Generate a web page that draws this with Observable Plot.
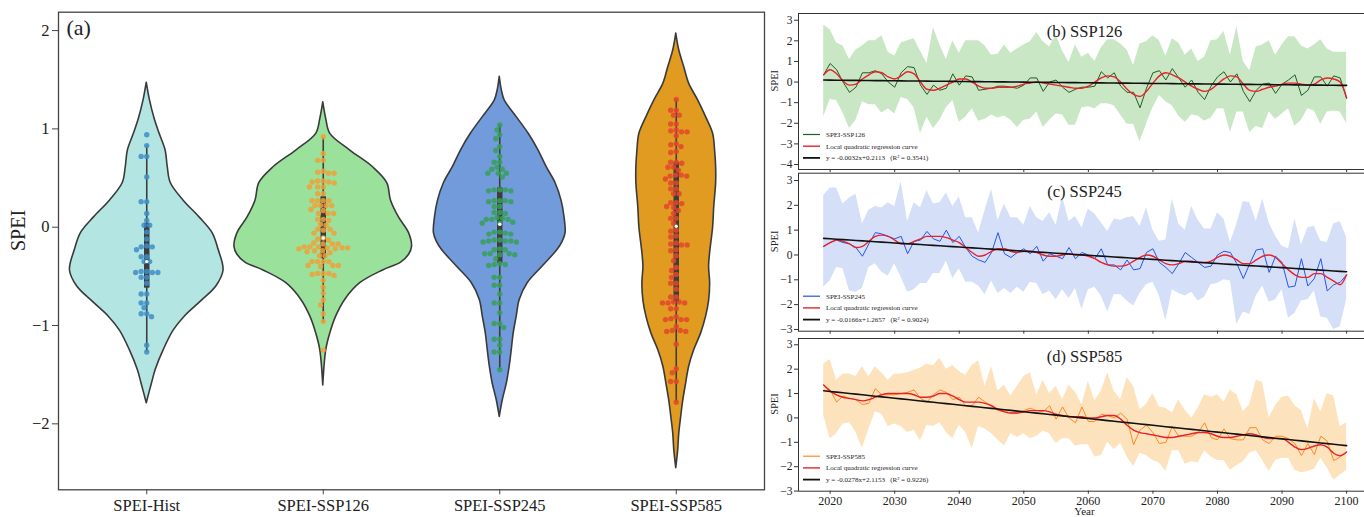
<!DOCTYPE html>
<html><head><meta charset="utf-8">
<script src="https://cdn.jsdelivr.net/npm/d3@7"></script>
<script src="https://cdn.jsdelivr.net/npm/@observablehq/plot@0.6"></script>
<style>
html,body{margin:0;padding:0;background:#fff;overflow:hidden;}
#wrap{position:relative;width:1364px;height:517px;overflow:hidden;background:#fff;}
#wrap svg{position:absolute;}
</style></head><body><div id="wrap"></div>
<script>
// ---------------- DATA: panel (a) ----------------
const categories = ["SPEI-Hist","SPEI-SSP126","SPEI-SSP245","SPEI-SSP585"];
const violinFill = ["#b3e5e3","#9ae29b","#729bdc","#e19b20"];
const dotColor = ["#3e8ec8","#f0a03a","#36a057","#e2462b"];

// violin half-width profiles: [SPEI value, half width in category-band units]
const histProfile = [[1.47,0],[1.3,.017],[1.1,.045],[0.95,.073],[0.78,.107],[0.61,.119],[0.45,.136],[0.27,.209],[0.1,.299],[-0.06,.373],[-0.23,.407],[-0.44,.435],[-0.6,.395],[-0.75,.311],[-0.91,.215],[-1.05,.153],[-1.25,.096],[-1.45,.051],[-1.6,.028],[-1.79,0]];
const ssp126Profile = [[1.27,0],[1.1,.017],[0.95,.04],[0.78,.153],[0.61,.282],[0.45,.362],[0.27,.384],[0.1,.429],[-0.06,.486],[-0.2,.503],[-0.28,.486],[-0.36,.441],[-0.44,.339],[-0.57,.209],[-0.74,.124],[-0.91,.073],[-1.08,.04],[-1.25,.017],[-1.61,0]];
const ssp245Profile = [[1.53,0],[1.4,.011],[1.29,.028],[1.12,.096],[0.95,.164],[0.78,.22],[0.61,.266],[0.45,.316],[0.27,.35],[0.1,.367],[-0.06,.373],[-0.15,.356],[-0.23,.328],[-0.4,.243],[-0.57,.158],[-0.74,.113],[-0.91,.096],[-1.08,.079],[-1.25,.068],[-1.42,.056],[-1.59,.04],[-1.76,.017],[-1.93,0]];
const ssp585Profile = [[1.97,0],[1.8,.017],[1.63,.045],[1.46,.073],[1.29,.124],[1.12,.169],[0.95,.209],[0.78,.22],[0.61,.226],[0.45,.226],[0.2,.215],[0,.209],[-0.26,.192],[-0.4,.186],[-0.57,.192],[-0.75,.186],[-0.91,.169],[-1.08,.141],[-1.25,.102],[-1.42,.073],[-1.59,.056],[-1.76,.04],[-1.93,.028],[-2.1,.017],[-2.27,.011],[-2.45,0]];

// swarm points (annual SPEI values)
const histValues = [0.94,0.83,0.72,0.72,0.51,0.26,0.26,0.14,0.07,0.02,0.02,-0.05,-0.12,-0.2,-0.2,-0.19,-0.23,-0.3,-0.3,-0.35,-0.35,-0.46,-0.46,-0.46,-0.45,-0.45,-0.51,-0.51,-0.57,-0.68,-0.68,-0.77,-0.77,-0.82,-0.88,-0.88,-0.91,-1.2,-1.27];
const ssp126Values = [0.92,0.75,0.68,0.68,0.57,0.56,0.55,0.55,0.47,0.47,0.46,0.45,0.46,0.41,0.41,0.41,0.34,0.34,0.27,0.27,0.27,0.27,0.22,0.22,0.22,0.22,0.18,0.17,0.14,0.14,0.14,0.08,0.07,0.08,0.03,0.02,-0.02,-0.02,-0.03,-0.06,-0.06,-0.11,-0.12,-0.13,-0.16,-0.17,-0.17,-0.17,-0.2,-0.21,-0.22,-0.22,-0.21,-0.21,-0.2,-0.2,-0.24,-0.25,-0.24,-0.26,-0.29,-0.29,-0.35,-0.35,-0.35,-0.35,-0.39,-0.4,-0.39,-0.39,-0.47,-0.49,-0.48,-0.47,-0.47,-0.54,-0.61,-0.67,-0.74,-0.79,-0.88,-0.96,-1.25];
const ssp245Values = [1.04,0.99,0.94,0.9,0.82,0.78,0.72,0.66,0.66,0.61,0.59,0.59,0.55,0.55,0.55,0.51,0.38,0.37,0.38,0.37,0.38,0.27,0.26,0.27,0.26,0.27,0.21,0.21,0.15,0.15,0.14,0.1,0.08,0.08,0.08,0.09,0.05,0.04,0.04,-0.05,-0.07,-0.06,-0.07,-0.05,-0.13,-0.14,-0.15,-0.14,-0.15,-0.14,-0.13,-0.22,-0.23,-0.23,-0.27,-0.28,-0.28,-0.27,-0.27,-0.32,-0.38,-0.38,-0.39,-0.37,-0.51,-0.51,-0.59,-0.59,-0.68,-0.77,-0.77,-0.87,-0.98,-0.98,-1.02,-1.14,-1.14,-1.2,-1.27,-1.27,-1.45];
const ssp585Values = [1.3,1.19,1.19,1.14,1.14,1.05,1.05,0.99,0.98,0.97,0.97,0.93,0.85,0.84,0.82,0.77,0.76,0.66,0.66,0.65,0.61,0.61,0.58,0.53,0.52,0.52,0.53,0.49,0.45,0.45,0.39,0.39,0.34,0.34,0.25,0.25,0.24,0.2,0.21,0.17,0.14,0.09,0.09,0.04,-0.03,-0.04,-0.09,-0.1,-0.17,-0.18,-0.18,-0.16,-0.23,-0.24,-0.29,-0.34,-0.41,-0.44,-0.48,-0.51,-0.57,-0.57,-0.63,-0.71,-0.71,-0.76,-0.77,-0.77,-0.77,-0.76,-0.83,-0.83,-0.91,-0.94,-0.94,-0.94,-0.93,-1.01,-1.06,-1.06,-1.05,-1.05,-1.19,-1.44,-1.48,-1.57,-1.57,-1.78];

// inner box stats: lower whisker, Q1, median, Q3, upper whisker
const whiskerLow = [-1.27,-0.97,-1.45,-1.78];
const q1 = [-0.62,-0.32,-0.37,-0.77];
const median = [-0.35,-0.11,0.03,0.01];
const q3 = [0.04,0.31,0.40,0.66];
const whiskerHigh = [0.83,0.91,1.04,1.30];
const violinTicks = [-2,-1,0,1,2];

// ---------------- DATA: panels (b)-(d) ----------------
const years = d3.range(2019, 2101);
const yearTicks = [2020,2030,2040,2050,2060,2070,2080,2090,2100];
const ssp126Line = [0.35,0.9,0.6,0.0,-0.5,-0.25,0.45,0.45,0.55,0.4,0.0,-0.25,0.45,0.75,0.7,-0.15,-0.6,-0.15,-0.4,-0.3,0.4,-0.15,0.3,0.25,-0.4,-0.35,-0.3,-0.2,-0.2,-0.25,-0.3,-0.15,0.2,0.2,-0.45,0.0,0.1,-0.25,-0.5,-0.35,-0.25,-0.25,-0.2,0.5,0.2,0.45,-0.2,-0.5,-0.5,-1.25,-0.3,0.45,0.55,0.1,0.65,0.2,-0.25,0.1,-0.5,-0.85,-0.2,0.25,0.5,0.0,0.4,-0.45,-0.95,-0.4,-0.1,-0.05,-0.55,-0.1,0.1,0.35,-0.65,-0.4,0.25,0.25,-0.2,0.3,0.2,-0.8];
const ssp126Loess = [0.35,0.6,0.4,0.05,-0.15,-0.1,0.15,0.35,0.5,0.45,0.25,0.15,0.3,0.5,0.4,0.0,-0.35,-0.4,-0.3,-0.15,0.0,0.15,0.15,0.0,-0.2,-0.3,-0.3,-0.25,-0.25,-0.25,-0.2,-0.1,-0.05,0.0,-0.05,-0.1,-0.15,-0.2,-0.25,-0.3,-0.3,-0.2,0.0,0.2,0.3,0.25,0.0,-0.35,-0.6,-0.7,-0.45,-0.05,0.3,0.45,0.35,0.2,0.0,-0.2,-0.35,-0.45,-0.35,-0.1,0.15,0.3,0.25,-0.1,-0.4,-0.45,-0.35,-0.25,-0.2,-0.1,-0.05,-0.05,-0.1,-0.15,-0.1,0.1,0.2,0.15,0.0,-0.75];
const ssp126Upper = [2.75,2.55,1.9,1.75,1.1,1.55,1.75,2.0,2.0,2.25,1.45,1.25,1.9,2.0,2.1,1.5,0.9,2.65,1.8,1.1,2.0,1.4,2.0,2.0,2.0,1.75,1.3,1.35,1.8,1.4,1.6,1.8,1.95,2.4,1.95,1.7,2.3,1.5,0.95,1.8,1.2,1.4,1.0,1.65,2.05,2.05,1.85,1.55,0.8,1.85,1.95,2.25,2.0,1.25,2.1,1.9,1.3,1.6,1.0,1.2,2.0,2.05,2.45,1.3,2.7,1.0,0.55,1.7,1.8,2.0,1.3,1.8,2.2,2.2,1.75,1.6,1.8,2.05,1.6,1.45,1.45,1.45];
const ssp126Lower = [-1.7,-0.85,-0.9,-1.5,-2.25,-1.85,-0.95,-1.1,-1.1,-1.5,-1.3,-1.55,-0.75,-0.85,-1.25,-2.5,-1.7,-2.25,-1.85,-1.25,-0.9,-1.95,-1.7,-1.3,-1.9,-1.8,-1.6,-1.75,-1.65,-1.85,-2.2,-1.85,-1.8,-1.45,-2.2,-1.85,-1.55,-1.6,-2.1,-2.1,-1.25,-1.2,-1.3,-1.05,-1.05,-1.15,-1.6,-2.05,-2.05,-2.9,-2.05,-1.25,-0.65,-0.95,-1.15,-1.65,-1.95,-1.6,-1.65,-1.9,-1.75,-1.3,-1.3,-2.45,-1.45,-1.45,-2.45,-2.15,-2.25,-1.45,-1.8,-1.55,-1.3,-2.15,-1.85,-1.3,-1.4,-2.05,-1.45,-1.4,-1.45,-2.0];

const ssp245Line = [0.35,0.5,0.6,0.5,0.45,0.3,-0.05,0.45,0.9,0.85,0.75,0.65,0.75,0.05,0.55,0.6,0.95,0.65,0.55,1.0,0.5,0.75,0.3,-0.05,-0.2,-0.3,0.1,0.9,0.05,-0.1,0.1,0.25,0.05,0.35,-0.25,0.05,-0.05,-0.15,0.3,-0.15,0.1,0.0,-0.15,0.25,-0.4,-0.4,-0.6,-0.2,-0.6,-0.55,0.1,0.25,-0.3,-0.5,-0.75,-0.35,0.1,-0.1,-0.3,-0.5,-0.45,0.0,0.15,0.1,-0.35,-0.95,-0.35,0.2,0.25,-0.7,-0.05,-0.3,-1.3,-1.25,-0.15,-1.25,-0.95,-0.15,-1.45,-1.2,-1.1,-0.8];
const ssp245Loess = [0.35,0.5,0.6,0.55,0.45,0.3,0.35,0.55,0.75,0.8,0.75,0.6,0.45,0.45,0.55,0.65,0.75,0.75,0.75,0.7,0.6,0.5,0.3,0.1,-0.05,0.0,0.15,0.25,0.25,0.15,0.1,0.15,0.15,0.1,0.0,-0.05,-0.05,0.0,0.05,0.0,0.0,-0.05,-0.15,-0.3,-0.4,-0.45,-0.45,-0.4,-0.25,-0.1,0.0,-0.05,-0.2,-0.35,-0.4,-0.35,-0.25,-0.25,-0.3,-0.3,-0.25,-0.1,0.0,-0.05,-0.2,-0.35,-0.35,-0.2,-0.05,0.0,-0.1,-0.35,-0.6,-0.8,-0.9,-0.9,-0.75,-0.75,-0.9,-1.05,-1.2,-0.8];
const ssp245Upper = [2.4,2.7,2.7,2.05,2.3,2.45,1.25,1.8,1.95,1.9,2.1,1.95,2.95,1.35,2.1,1.9,2.6,2.05,2.1,2.5,1.95,2.35,1.5,1.5,0.9,1.8,2.65,1.4,2.05,1.5,1.5,1.2,1.95,1.5,1.35,1.7,1.2,2.35,1.35,1.55,1.1,1.85,1.65,1.3,0.95,1.45,1.4,1.5,1.55,1.15,1.9,1.0,0.55,0.6,2.25,1.25,1.0,1.95,1.4,1.05,1.05,1.7,1.45,0.5,1.25,2.15,2.1,1.35,2.25,1.3,0.75,0.35,0.25,1.45,0.4,1.1,1.15,0.55,0.5,1.25,1.35,0.7];
const ssp245Lower = [-1.3,-1.05,-0.5,-0.55,-1.45,-1.5,-1.35,-0.5,-0.35,-0.7,-0.85,-0.35,-0.9,-1.5,-1.4,-1.15,-1.15,-0.75,-0.75,-0.25,-0.95,-0.55,-1.1,-1.1,-1.25,-1.6,-1.05,-1.55,-1.35,-1.55,-1.3,-1.5,-1.1,-1.15,-1.6,-1.45,-1.8,-1.4,-1.75,-1.35,-2.2,-1.4,-1.3,-1.65,-2.3,-1.6,-1.6,-1.85,-2.05,-1.55,-1.2,-1.1,-1.65,-2.65,-1.4,-1.55,-1.65,-1.5,-1.85,-1.7,-1.2,-1.15,-1.0,-1.05,-2.8,-2.3,-2.4,-1.65,-1.25,-1.9,-1.8,-1.4,-2.55,-2.35,-1.85,-1.8,-1.45,-2.5,-2.55,-3.0,-2.9,-1.8];

const ssp585Line = [1.35,1.15,0.65,0.9,0.8,0.75,0.55,0.6,1.2,0.95,0.95,0.95,1.0,1.05,1.15,0.8,0.65,0.95,1.15,1.05,0.75,0.85,0.5,0.5,0.85,0.65,0.5,0.3,0.3,0.2,0.2,0.3,0.4,0.3,0.25,0.5,-0.05,0.45,0.0,-0.2,0.45,-0.15,-0.15,0.15,0.1,0.0,0.2,-0.05,-1.1,-0.5,-0.3,-0.6,-1.05,-1.0,-0.35,-0.75,-0.75,-0.75,-0.6,-0.2,-0.8,-0.9,-0.45,-0.85,-0.9,-0.9,-0.4,-0.4,-0.9,-1.05,-0.75,-0.75,-0.85,-1.05,-1.55,-1.05,-1.5,-0.75,-0.95,-1.75,-1.6,-1.4];
const ssp585Loess = [1.35,1.1,0.95,0.85,0.8,0.75,0.7,0.75,0.85,0.95,1.0,1.0,1.0,1.0,0.95,0.85,0.85,0.9,1.0,1.0,0.9,0.75,0.65,0.65,0.65,0.6,0.5,0.35,0.25,0.2,0.2,0.25,0.3,0.3,0.3,0.25,0.15,0.1,0.05,0.05,0.05,0.0,0.0,0.05,0.1,0.1,-0.05,-0.3,-0.5,-0.6,-0.65,-0.7,-0.75,-0.8,-0.8,-0.75,-0.7,-0.65,-0.6,-0.6,-0.65,-0.75,-0.8,-0.8,-0.75,-0.7,-0.65,-0.7,-0.8,-0.85,-0.85,-0.85,-1.0,-1.2,-1.3,-1.25,-1.15,-1.1,-1.2,-1.45,-1.55,-1.4];
const ssp585Upper = [2.2,2.4,1.55,1.8,1.8,1.7,2.1,1.7,2.1,1.85,1.55,1.8,1.8,1.85,1.95,2.05,2.2,2.15,2.45,2.0,2.15,1.9,1.75,2.15,2.35,1.3,2.1,1.1,1.35,0.9,1.3,1.7,1.85,0.95,1.55,1.0,1.3,0.75,1.35,1.05,0.55,1.5,0.7,1.1,1.85,1.1,0.75,1.65,1.3,0.35,0.55,1.0,0.45,0.4,0.2,0.75,0.3,0.0,0.4,0.95,0.85,0.95,0.65,1.15,0.95,0.25,0.55,1.55,1.45,0.0,0.5,0.85,0.9,0.5,0.3,-0.45,0.8,0.25,1.0,0.9,-0.35,-0.2];
const ssp585Lower = [0.1,-0.85,-0.65,-0.25,-0.2,-0.6,-1.25,-0.45,0.25,0.15,-0.35,-0.25,-0.35,-0.6,-0.5,-0.95,-0.3,-0.35,-0.2,-0.6,-0.85,-0.3,-0.6,-1.25,-0.35,-0.45,-0.65,-0.9,-1.15,-0.65,-0.8,-0.65,-0.85,-0.75,-0.55,-0.65,-1.05,-0.85,-0.85,-1.15,-1.1,-1.1,-1.6,-1.55,-1.0,-1.3,-1.05,-1.6,-2.0,-1.45,-1.55,-1.75,-1.85,-2.2,-1.35,-1.35,-1.9,-1.8,-1.85,-1.35,-1.6,-1.75,-1.75,-2.15,-1.95,-1.8,-1.45,-1.35,-1.75,-2.2,-1.75,-1.65,-1.65,-2.15,-2.25,-2.2,-2.1,-1.65,-2.05,-2.55,-2.35,-2.15];

// linear trend y = slope * x + intercept, x = year - 1983
const trendSlope = [-0.0032,-0.0166,-0.0278];
const trendIntercept = [0.2113,1.2657,2.1153];
const trendR2 = ["0.3541","0.9024","0.9226"];
const trendBaseYear = 1983;
const scenarioNames = ["SSP126","SSP245","SSP585"];
const panelTitles = ["(b) SSP126","(c) SSP245","(d) SSP585"];

// ---------------- RENDER ----------------
const serif = "'Liberation Serif','Times New Roman',serif";
const wrap = document.getElementById("wrap");
const intFmt = d => (d < 0 ? "\u2212" : "") + Math.abs(d);

// panel (a) layout
const A = {width: 770, height: 517, marginLeft: 58, marginRight: 6, marginTop: 11.7, marginBottom: 27.7, yDomain: [-2.671, 2.187]};
const bandPx = (A.width - A.marginLeft - A.marginRight) / 4;
const yPx = d3.scaleLinear(A.yDomain, [A.height - A.marginBottom, A.marginTop]);

function swarmOffsets(vals, diam) {
  const ys = vals.map(v => yPx(v));
  const order = d3.range(vals.length).sort((a, b) => ys[a] - ys[b]);
  const placed = [], out = new Array(vals.length);
  for (const i of order) {
    const y = ys[i];
    const near = placed.filter(p => Math.abs(p.y - y) < diam);
    const cands = [0];
    for (const p of near) { const dx = Math.sqrt(diam * diam - (p.y - y) ** 2); cands.push(p.x + dx, p.x - dx); }
    cands.sort((a, b) => Math.abs(a) - Math.abs(b) || a - b);
    let x = 0;
    for (const c of cands) { if (near.every(p => (p.x - c) ** 2 + (p.y - y) ** 2 >= diam * diam - 0.01)) { x = c; break; } }
    placed.push({x, y}); out[i] = x;
  }
  return out;
}

const profiles = [histProfile, ssp126Profile, ssp245Profile, ssp585Profile];
const swarmSets = [histValues, ssp126Values, ssp245Values, ssp585Values];
const violinRows = profiles.flatMap((p, i) => p.map(([v, w]) => ({cat: i, v, w})));
const dotRows = swarmSets.flatMap((vals, i) => { const o = swarmOffsets(vals, 5.6); return vals.map((v, j) => ({cat: i, v, off: o[j] / bandPx})); });
const boxRows = categories.map((c, i) => ({cat: i, lo: whiskerLow[i], q1: q1[i], med: median[i], q3: q3[i], hi: whiskerHigh[i]}));

const plotA = Plot.plot({
  width: A.width, height: A.height, marginLeft: A.marginLeft, marginRight: A.marginRight, marginTop: A.marginTop, marginBottom: A.marginBottom,
  style: {fontFamily: serif, fontSize: "16.5px", background: "transparent", color: "#222"},
  x: {domain: [-0.5, 3.5]},
  y: {domain: A.yDomain},
  color: {type: "identity"},
  marks: [
    Plot.areaX(violinRows, {y: "v", x1: d => d.cat - d.w, x2: d => d.cat + d.w, z: "cat", fill: d => violinFill[d.cat], stroke: "#3a3a3a", strokeWidth: 1.6, curve: "catmull-rom"}),
    Plot.ruleX(boxRows, {x: "cat", y1: "lo", y2: "hi", stroke: "#3d3d3d", strokeWidth: 1.6}),
    Plot.ruleX(boxRows, {x: "cat", y1: "q1", y2: "q3", stroke: "#3d3d3d", strokeWidth: 5.5}),
    Plot.dot(dotRows, {x: d => d.cat + d.off, y: "v", r: 2.7, fill: d => dotColor[d.cat], fillOpacity: 0.85, stroke: "none"}),
    Plot.dot(boxRows, {x: "cat", y: "med", r: 1.7, fill: "white", stroke: "none"}),
    Plot.frame({stroke: "#444", strokeWidth: 1.3}),
    Plot.axisY({ticks: violinTicks, tickFormat: intFmt, tickSize: 6, tickPadding: 3, label: null, stroke: "#444"}),
    Plot.axisX({ticks: [0,1,2,3], tickFormat: i => categories[i], tickSize: 5, tickPadding: 4, label: null, stroke: "#444"}),
    Plot.text(["(a)"], {frameAnchor: "top-left", dx: 8, dy: 7, fontSize: 22, textAnchor: "start", lineAnchor: "top"}),
    Plot.text(["SPEI"], {frameAnchor: "left", dx: -39.5, rotate: -90, fontSize: 20})
  ]
});
plotA.style.left = "0px"; plotA.style.top = "0px";
wrap.appendChild(plotA);

// panels (b)-(d)
const scen = [
  {line: ssp126Line, loess: ssp126Loess, upper: ssp126Upper, lower: ssp126Lower, band: "#c9e6c5", color: "#245c24", top: 0, height: 180, mt: 13, mb: 11, yDomain: [-4.243, 3.326], yTicks: [-4,-3,-2,-1,0,1,2,3], labels: false},
  {line: ssp245Line, loess: ssp245Loess, upper: ssp245Upper, lower: ssp245Lower, band: "#d5e0f8", color: "#2456e8", top: 160, height: 180, mt: 12.7, mb: 9.3, yDomain: [-3.07, 3.294], yTicks: [-3,-2,-1,0,1,2,3], labels: false},
  {line: ssp585Line, loess: ssp585Loess, upper: ssp585Upper, lower: ssp585Lower, band: "#fde3bd", color: "#ff8a1c", top: 325, height: 192, mt: 13, mb: 26.3, yDomain: [-3.005, 3.258], yTicks: [-3,-2,-1,0,1,2,3], labels: true}
];
const red = "#e8212b";

function legendMark(items) {
  return (index, scales, values, dims) => {
    const g = d3.create("svg:g").attr("font-family", serif).attr("font-size", 7).attr("fill", "#222").attr("text-anchor", "start");
    const x0 = dims.marginLeft + 5, yb = dims.height - dims.marginBottom;
    items.forEach((it, k) => {
      const y = yb - 34.5 + k * 11.7;
      g.append("line").attr("x1", x0).attr("x2", x0 + 17).attr("y1", y).attr("y2", y).attr("stroke", it.color).attr("stroke-width", it.w);
      g.append("text").attr("x", x0 + 23).attr("y", y).attr("dy", "0.35em").attr("text-anchor", "start").text(it.label);
    });
    return g.node();
  };
}

scen.forEach((s, k) => {
  const rows = years.map((yr, i) => ({year: yr, v: s.line[i], lo: s.loess[i], up: s.upper[i], dn: s.lower[i], tr: trendIntercept[k] + trendSlope[k] * (yr - trendBaseYear)}));
  const p = Plot.plot({
    width: 640, height: s.height, marginLeft: 58, marginRight: 10, marginTop: s.mt, marginBottom: s.mb,
    style: {fontFamily: serif, fontSize: "11.5px", background: "transparent", color: "#222", overflow: "visible"},
    x: {domain: [2015.1, 2103.7]},
    y: {domain: s.yDomain},
    marks: [
      Plot.areaY(rows, {x: "year", y1: "dn", y2: "up", fill: s.band}),
      Plot.line(rows, {x: "year", y: "v", stroke: s.color, strokeWidth: 1}),
      Plot.line(rows, {x: "year", y: "lo", stroke: red, strokeWidth: 1.4, curve: "monotone-x"}),
      Plot.line(rows, {x: "year", y: "tr", stroke: "#111", strokeWidth: 1.6}),
      Plot.frame({stroke: "#333", strokeWidth: 1}),
      Plot.axisY({ticks: s.yTicks, tickFormat: intFmt, tickSize: 4, tickPadding: 2, label: null, stroke: "#333"}),
      Plot.axisX({ticks: yearTicks, tickSize: 3, tickPadding: 2, label: null, stroke: "#333", fontSize: 12, tickFormat: s.labels ? (d => String(d)) : (() => "")}),
      Plot.text([panelTitles[k]], {frameAnchor: "top", dy: 12, fontSize: 16.5}),
      Plot.text(["SPEI"], {frameAnchor: "left", dx: -24, rotate: -90, fontSize: 10.5}),
      ...(s.labels ? [Plot.text(["Year"], {frameAnchor: "bottom", dy: 24, fontSize: 11})] : []),
      legendMark([
        {color: s.color, w: 1.2, label: "SPEI-" + scenarioNames[k]},
        {color: red, w: 1.4, label: "Local quadratic regression curve"},
        {color: "#111", w: 1.8, label: `y = ${trendSlope[k].toFixed(4)}x+${trendIntercept[k].toFixed(4)}   (R² = ${trendR2[k]})`}
      ])
    ]
  });
  p.style.left = "740px"; p.style.top = s.top + "px";
  wrap.appendChild(p);
});
</script></body></html>
